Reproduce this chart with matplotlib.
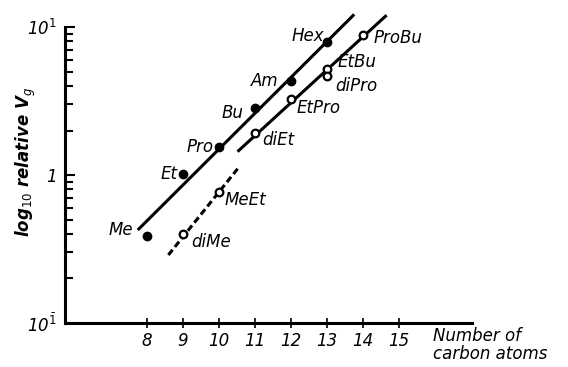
import matplotlib
matplotlib.use("Agg")
import matplotlib.pyplot as plt
import numpy as np

plt.rcParams["mathtext.fontset"] = "dejavusans"
plt.rcParams["mathtext.default"] = "it"

# Data
filled_labels = ["Me", "Et", "Pro", "Bu", "Am", "Hex"]
filled_x = [8, 9, 10, 11, 12, 13]
filled_y = [0.39, 1.02, 1.55, 2.82, 4.34, 7.95]

open_labels = ["diMe", "MeEt", "diEt", "EtPro", "EtBu", "diPro", "ProBu"]
open_x = [9, 10, 11, 12, 13, 13, 14]
open_y = [0.40, 0.77, 1.93, 3.25, 5.18, 4.67, 8.83]

line1_x = [7.75, 13.76]
line1_y = [0.425, 12.2]
line2_x = [10.52, 14.66]
line2_y = [1.44, 12.05]
dash_x = [8.6, 10.57]
dash_y = [0.288, 1.14]

xticks = [8, 9, 10, 11, 12, 13, 14, 15]

# label offsets (points) and alignment
filled_off = {"Me": (-10, 4, "right"), "Et": (-4, 0, "right"), "Pro": (-4, 0, "right"),
              "Bu": (-8, -3, "right"), "Am": (-9, 0, "right"), "Hex": (-2, 4, "right")}
open_off = {"diMe": (6, -6, "left"), "MeEt": (4, -6, "left"), "diEt": (5, -5, "left"),
            "EtPro": (4, -6, "left"), "EtBu": (8, 5, "left"), "diPro": (6, -7, "left"),
            "ProBu": (8, -2, "left")}

fig = plt.figure(figsize=(5.68, 3.67), dpi=100)
ax = fig.add_axes([0.1144, 0.12, 0.7166, 0.806])
ax.set_yscale("log")
ax.set_xlim(5.73, 17.03)
ax.set_ylim(0.1, 10)

ax.plot(line1_x, line1_y, color="black", lw=2.2, clip_on=False, solid_capstyle="butt")
ax.plot(line2_x, line2_y, color="black", lw=2.2, clip_on=False, solid_capstyle="butt")
ax.plot(dash_x, dash_y, color="black", lw=2.2, ls=(0, (2.2, 1.2)), clip_on=False)

ax.plot(filled_x, filled_y, "o", color="black", ms=6, clip_on=False)
ax.plot(open_x, open_y, "o", mfc="white", mec="black", mew=1.6, ms=5.5, clip_on=False)

tfont = dict(fontsize=12, fontstyle="italic", family="DejaVu Sans")
for lab, x, y in zip(filled_labels, filled_x, filled_y):
    dx, dy, ha = filled_off[lab]
    ax.annotate(lab, (x, y), xytext=(dx, dy), textcoords="offset points",
                ha=ha, va="center", **tfont)
for lab, x, y in zip(open_labels, open_x, open_y):
    dx, dy, ha = open_off[lab]
    ax.annotate(lab, (x, y), xytext=(dx, dy), textcoords="offset points",
                ha=ha, va="center", **tfont)

for s in ["top", "right"]:
    ax.spines[s].set_visible(False)
for s in ["left", "bottom"]:
    ax.spines[s].set_linewidth(2.2)

ax.set_xticks(xticks)
ax.set_xticklabels([str(t) for t in xticks], fontsize=12, fontstyle="italic")
ax.tick_params(axis="x", direction="inout", length=7, width=1.2, pad=3)
ax.set_yticks([0.1, 1, 10])
ax.set_yticklabels([r"10$^{\bar{1}}$", "1", r"10$^{1}$"], fontsize=12, fontstyle="italic")
minor = [m * d for d in (0.1, 1) for m in range(2, 10)]
ax.set_yticks(minor, minor=True)
ax.yaxis.set_minor_formatter(matplotlib.ticker.NullFormatter())
ax.tick_params(axis="y", which="major", direction="in", length=7, width=1.5, pad=6)
ax.tick_params(axis="y", which="minor", direction="in", length=6, width=1.5)

ax.set_ylabel(r"log$_{10}$ relative V$_g$", fontsize=12, fontstyle="italic",
              fontweight="bold")
ax.yaxis.set_label_coords(-0.066, 0.544)
fig.text(433 / 568, 1 - 345 / 367, "Number of\ncarbon atoms", fontsize=12,
         fontstyle="italic", ha="left", va="center", linespacing=0.95)

fig.savefig("out.png", dpi=100)
